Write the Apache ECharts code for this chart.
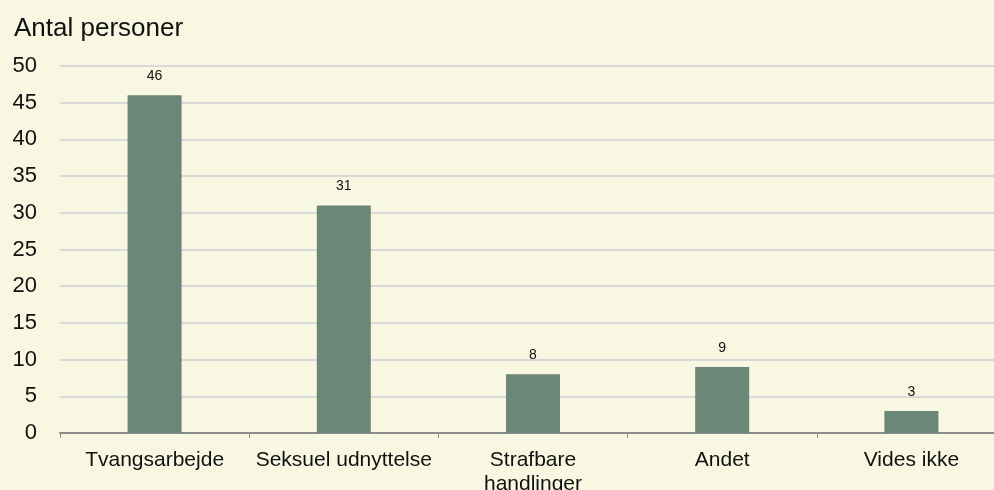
<!DOCTYPE html>
<html>
<head>
    <meta charset="utf-8">
    <title>Antal personer</title>
    <script src="https://cdn.jsdelivr.net/npm/echarts@6/dist/echarts.min.js"></script>
    <style>
      html, body { margin:0; padding:0; background:#f8f7e2; }
      #main { width:994px; height:490px; }
    </style>
</head>
<body>
    <div id="main"></div>
    <script type="text/javascript">
// kategorier og antal
let categories = ['Tvangsarbejde', 'Seksuel udnyttelse', 'Strafbare\nhandlinger', 'Andet', 'Vides ikke']
let values = [46, 31, 8, 9, 3]
let yTicks = [0, 50, 5]   // min, max, interval

let font = 'Liberation Sans, Arial, sans-serif'

let option = {
    backgroundColor: '#f8f7e2',
    animation: false,
    title: {
        text: 'Antal personer',
        left: 9, top: 11,
        textStyle: { fontFamily: font, fontSize: 26, fontWeight: 'normal', color: '#111' }
    },
    // plotområdet går lidt ud over højre kant, og 2. linje af en label er skåret af
    grid: { left: 60, top: 66, width: 946, height: 367, outerBoundsMode: 'none' },
    xAxis: {
        type: 'category',
        data: categories,
        axisLine: { lineStyle: { color: '#8c8c8c', width: 2 } },
        axisTick: { show: true, length: 5, interval: 0, lineStyle: { color: '#8c8c8c' } },
        axisLabel: { interval: 0, fontFamily: font, fontSize: 21, color: '#111', margin: 15, lineHeight: 24 }
    },
    yAxis: {
        type: 'value',
        min: yTicks[0], max: yTicks[1], interval: yTicks[2],
        axisLine: { show: false },
        axisTick: { show: false },
        splitLine: { lineStyle: { color: '#d9d9d9', width: 2 } },
        axisLabel: { fontFamily: font, fontSize: 22, color: '#111', margin: 23 }
    },
    series: [{
        type: 'bar',
        data: values,
        barWidth: 54,
        itemStyle: { color: '#6b8777' },
        label: {
            show: true, position: 'top', distance: 12,
            fontFamily: font, fontSize: 14, color: '#111'
        }
    }]
}

echarts.init(document.getElementById('main')).setOption(option)
    </script>
</body>
</html>
